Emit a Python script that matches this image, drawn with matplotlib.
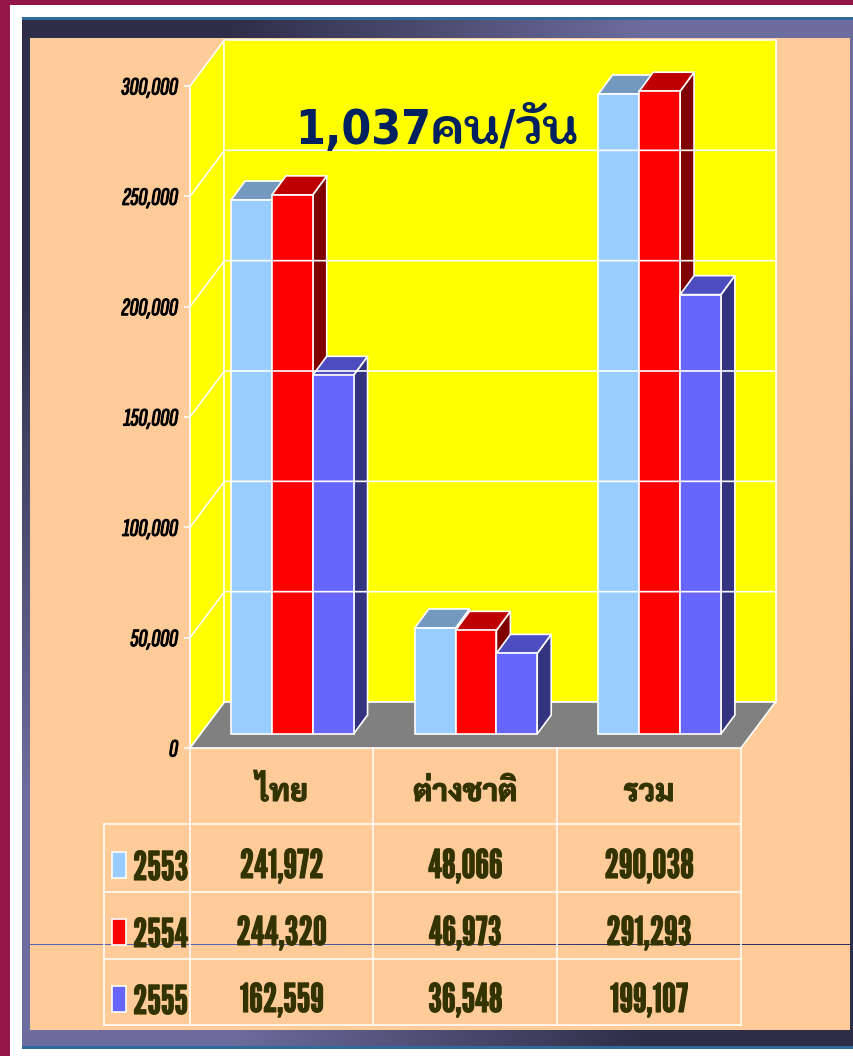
import numpy as np
import matplotlib
matplotlib.use("Agg")
import matplotlib.pyplot as plt
import matplotlib.patheffects as pe
from matplotlib.colors import LinearSegmentedColormap

# chart data
categories = ["ไทย", "ต่างชาติ", "รวม"]
years = ["2553", "2554", "2555"]
values_2553 = [241972, 48066, 290038]
values_2554 = [244320, 46973, 291293]
values_2555 = [162559, 36548, 199107]
y_ticks = [0, 50000, 100000, 150000, 200000, 250000, 300000]
title = "1,037คน/วัน"

series = [values_2553, values_2554, values_2555]
front_cols = ["#99CCFF", "#FF0000", "#6666FF"]
top_cols = ["#7399BF", "#BF0000", "#4D4DBF"]
side_cols = ["#4D6680", "#800000", "#333380"]

W, H = 854, 1056
NUM_FONT = ["League Gothic", "Fira Sans Extra Condensed", "Liberation Sans"]
TICK_FONT = ["Sofia Sans Extra Condensed", "Fira Sans Extra Condensed", "Liberation Sans"]
THAI_FONT = ["Sarabun", "Noto Sans Thai"]
INK = "#333300"
ink_stroke = [pe.withStroke(linewidth=0.8, foreground=INK)]


def px_axes(fig, zorder):
    a = fig.add_axes([0, 0, 1, 1], zorder=zorder)
    a.set_xlim(0, W)
    a.set_ylim(H, 0)
    a.axis("off")
    a.patch.set_alpha(0)
    return a


fig = plt.figure(figsize=(W / 100, H / 100), dpi=100, facecolor="white")

# page background
back = px_axes(fig, 0)
back.fill([0, W, W, 0], [0, 0, 5, 5], color="#941547", lw=0)
back.fill([0, 10, 10, 0], [0, 0, H, H], color="#941547", lw=0)
frame_cmap = LinearSegmentedColormap.from_list("frame", ["#2E2E48", "#6C6C9E"])
back.imshow([[0, 1], [1, 0]], extent=[22, W, 1046, 20], cmap=frame_cmap,
            interpolation="bilinear", aspect="auto")
back.fill([22, W, W, 22], [17, 17, 20, 20], color="#2F6A9C", lw=0)
back.fill([22, W, W, 22], [1046, 1046, 1049, 1049], color="#2F6A9C", lw=0)
back.fill([30, 850, 850, 30], [38, 38, 1030, 1030], color="#FFCC99", lw=0)
back.set_xlim(0, W)
back.set_ylim(H, 0)

# chart axes sits on the front plane of the 3D box
x0, x1, y0, y1 = 190, 741, 748, 86
ax = fig.add_axes([x0 / W, 1 - y0 / H, (x1 - x0) / W, (y0 - y1) / H], zorder=1)
ax.set_xlim(0, len(categories))
ax.set_ylim(0, 300000)
ax.patch.set_alpha(0)
for s in ax.spines.values():
    s.set_visible(False)

per_x = len(categories) / (x1 - x0)
per_y = 300000 / (y0 - y1)
box_dx, box_dy = 34.5 * per_x, 46 * per_y
bar_dx, bar_dy = 14 * per_x, 19 * per_y
off_x, off_y = 10.5 * per_x, 14 * per_y
bar_w = 1 / 4.5
n = len(categories)
top = y_ticks[-1]
edge = dict(edgecolor="white", linewidth=1.2, clip_on=False)

ax.fill([0, box_dx, box_dx, 0], [0, box_dy, top + box_dy, top], facecolor="#FFFF00", **edge)
ax.fill([box_dx, n + box_dx, n + box_dx, box_dx], [box_dy, box_dy, top + box_dy, top + box_dy],
        facecolor="#FFFF00", **edge)
ax.fill([0, box_dx, n + box_dx, n], [0, box_dy, box_dy, 0], facecolor="#808080", **edge)
for v in y_ticks[1:-1]:
    ax.plot([0, box_dx, n + box_dx], [v, v + box_dy, v + box_dy], color="white", lw=1.2, clip_on=False)

for i in range(n):
    for j, vals in enumerate(series):
        left = i + 0.5 - 1.5 * bar_w + j * bar_w + off_x
        right = left + bar_w
        v = vals[i] + off_y
        ax.fill([right, right + bar_dx, right + bar_dx, right],
                [off_y, off_y + bar_dy, v + bar_dy, v], facecolor=side_cols[j], **edge)
        ax.fill([left, left + bar_dx, right + bar_dx, right],
                [v, v + bar_dy, v + bar_dy, v], facecolor=top_cols[j], **edge)
        ax.bar(left, vals[i], width=bar_w, bottom=off_y, align="edge", facecolor=front_cols[j], **edge)

ax.set_xticks([])
ax.set_yticks(y_ticks)
ax.set_yticklabels([f"{v:,}" for v in y_ticks], family=TICK_FONT, style="italic",
                   weight="bold", fontsize=18, color="black",
                   path_effects=[pe.withStroke(linewidth=0.8, foreground="black")])
ax.tick_params(axis="y", length=4.3, width=1.2, color="white", pad=4.5)

# data table and overlay
front = px_axes(fig, 2)
col_x = [190, 373.5, 557, 741]
row_y = [824, 892, 959, 1025]
for x in col_x:
    front.plot([x, x], [748, 1025], color="white", lw=1.1)
front.plot([104, 104], [824, 1025], color="white", lw=1.1)
for y in row_y:
    front.plot([104, 741], [y, y], color="white", lw=1.1)

for i, name in enumerate(categories):
    front.text((col_x[i] + col_x[i + 1]) / 2, 801, name, family=THAI_FONT, weight="bold",
               fontsize=22, color=INK, ha="center", va="baseline", path_effects=ink_stroke)

baselines = [878, 945, 1012]
for j, vals in enumerate(series):
    front.fill([112, 126, 126, 112], [852 + 67 * j, 852 + 67 * j, 878 + 67 * j, 878 + 67 * j],
               facecolor=front_cols[j], edgecolor="white", lw=1.2)
    front.text(133, baselines[j] + 2, years[j], family=NUM_FONT, fontsize=28.5, color=INK,
               ha="left", va="baseline", path_effects=ink_stroke)
    for i, v in enumerate(vals):
        front.text((col_x[i] + col_x[i + 1]) / 2, baselines[j], f"{v:,}", family=NUM_FONT,
                   fontsize=28.5, color=INK, ha="center", va="baseline", path_effects=ink_stroke)

front.text(295, 144, title, family=["DejaVu Sans", "Kodchasan", "K2D", "Sarabun"], stretch="condensed",
           weight="bold", fontsize=34.5, color="#002060", ha="left", va="baseline")

line_cmap = LinearSegmentedColormap.from_list("rule", ["#5A62AE", "#2A3060"])
front.imshow([[0, 1]], extent=[30, 850, 945, 944], cmap=line_cmap,
             interpolation="bilinear", aspect="auto")
front.set_xlim(0, W)
front.set_ylim(H, 0)

fig.savefig("out.png", dpi=100)
